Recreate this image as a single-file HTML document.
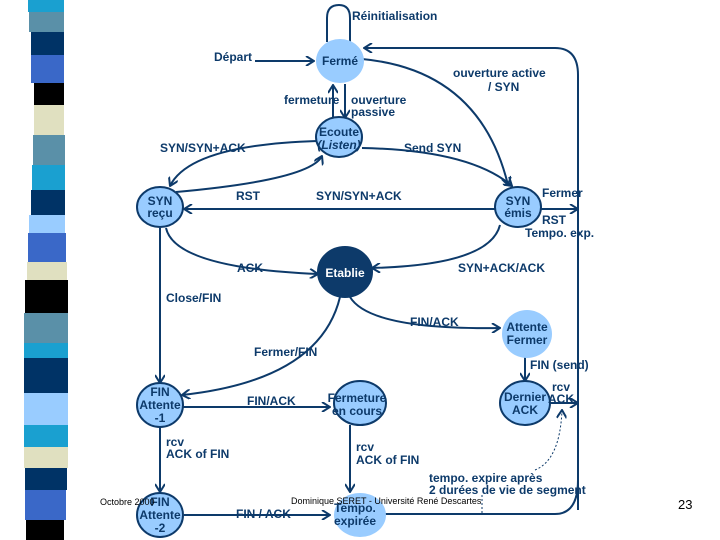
<!DOCTYPE html>
<html><head><meta charset="utf-8"><style>
body{margin:0;background:#fff}
svg{display:block}
text{font-family:"Liberation Sans",Arial,sans-serif;font-weight:bold;font-size:12px;fill:#0d3a6a}
</style></head><body>
<svg width="720" height="540" viewBox="0 0 720 540" xmlns="http://www.w3.org/2000/svg">
<defs><marker id="a" markerWidth="10" markerHeight="10" refX="9" refY="5" orient="auto" markerUnits="userSpaceOnUse"><path d="M1,0 L9,5 L1,10" fill="none" stroke="#0d3a6a" stroke-width="2"/></marker></defs>
<!-- stripes -->
<g>
<rect x="28" y="0" width="36" height="12" fill="#1aa0d0"/>
<rect x="29" y="12" width="35" height="20" fill="#5a90a8"/>
<rect x="31" y="32" width="33" height="23" fill="#003366"/>
<rect x="31" y="55" width="33" height="28" fill="#3a68c8"/>
<rect x="34" y="83" width="30" height="22" fill="#000"/>
<rect x="34" y="105" width="30" height="30" fill="#e0e0c0"/>
<rect x="33" y="135" width="32" height="30" fill="#5a90a8"/>
<rect x="32" y="165" width="33" height="25" fill="#1aa0d0"/>
<rect x="31" y="190" width="34" height="25" fill="#003366"/>
<rect x="29" y="215" width="36" height="18" fill="#99ccff"/>
<rect x="28" y="233" width="38" height="29" fill="#3a68c8"/>
<rect x="27" y="262" width="40" height="18" fill="#e0e0c0"/>
<rect x="25" y="280" width="43" height="33" fill="#000"/>
<rect x="24" y="313" width="44" height="30" fill="#5a90a8"/>
<rect x="24" y="343" width="44" height="15" fill="#1aa0d0"/>
<rect x="24" y="358" width="44" height="35" fill="#003366"/>
<rect x="24" y="393" width="44" height="32" fill="#99ccff"/>
<rect x="24" y="425" width="44" height="22" fill="#1aa0d0"/>
<rect x="24" y="447" width="44" height="21" fill="#e0e0c0"/>
<rect x="25" y="468" width="42" height="22" fill="#003366"/>
<rect x="25" y="490" width="41" height="30" fill="#3a68c8"/>
<rect x="26" y="520" width="38" height="20" fill="#000"/>
</g>
<g fill="none" stroke="#0d3a6a" stroke-width="2">
<path d="M327,42 V18 Q327,5 339,5 Q350,5 350,18 V42"/>
<path d="M255,61 H314" marker-end="url(#a)"/>
<path d="M578,510 V75 Q578,48 555,48 H364" marker-end="url(#a)"/>
<path d="M362,59 Q480,70 508,185" marker-end="url(#a)"/>
<path d="M333,117 V85" marker-end="url(#a)"/>
<path d="M345,84 V118" marker-end="url(#a)"/>
<path d="M317,141 Q190,145 170,186" marker-end="url(#a)"/>
<path d="M176,192 Q310,180 322,156" marker-end="url(#a)"/>
<path d="M362,148 Q470,150 512,186" marker-end="url(#a)"/>
<path d="M495,209 H184" marker-end="url(#a)"/>
<path d="M540,209 H578" marker-end="url(#a)"/>
<path d="M500,225 Q490,265 372,268" marker-end="url(#a)"/>
<path d="M166,228 Q175,268 318,274" marker-end="url(#a)"/>
<path d="M160,228 V383" marker-end="url(#a)"/>
<path d="M340,297 Q320,380 182,395" marker-end="url(#a)"/>
<path d="M350,297 Q370,330 500,328" marker-end="url(#a)"/>
<path d="M525,355 V381" marker-end="url(#a)"/>
<path d="M550,403 H578" marker-end="url(#a)"/>
<path d="M183,407 H330" marker-end="url(#a)"/>
<path d="M160,427 V492" marker-end="url(#a)"/>
<path d="M184,515 H330" marker-end="url(#a)"/>
<path d="M350,425 V492" marker-end="url(#a)"/>
<path d="M578,480 Q578,514 555,514 H380"/>
</g>
<path d="M535,470 Q560,460 562,410" fill="none" stroke="#0d3a6a" stroke-width="1" stroke-dasharray="2,2" marker-end="url(#a)"/>
<path d="M482,495 V513" fill="none" stroke="#0d3a6a" stroke-width="1" stroke-dasharray="2,2"/>
<!-- nodes -->
<g stroke="#0d3a6a" stroke-width="2">
<ellipse cx="340" cy="61" rx="24" ry="22" fill="#99ccff" stroke="none"/>
<ellipse cx="339" cy="137" rx="23" ry="20" fill="#99ccff"/>
<ellipse cx="160" cy="207" rx="23" ry="20" fill="#99ccff"/>
<ellipse cx="518" cy="207" rx="23" ry="20" fill="#99ccff"/>
<ellipse cx="345" cy="272" rx="27" ry="25" fill="#0d3a6a"/>
<ellipse cx="527" cy="334" rx="25" ry="24" fill="#99ccff" stroke="none"/>
<ellipse cx="525" cy="403" rx="25" ry="22" fill="#99ccff"/>
<ellipse cx="360" cy="403" rx="26" ry="22" fill="#99ccff"/>
<ellipse cx="160" cy="405" rx="23" ry="22" fill="#99ccff"/>
<ellipse cx="160" cy="515" rx="23" ry="22" fill="#99ccff"/>
<ellipse cx="360" cy="515" rx="26" ry="22" fill="#99ccff" stroke="none"/>
</g>
<g text-anchor="middle">
<text x="340" y="65">Fermé</text>
<text x="339" y="136">Ecoute</text><text x="339" y="149" font-style="italic">(Listen)</text>
<text x="160" y="205">SYN</text><text x="160" y="217">reçu</text>
<text x="518" y="205">SYN</text><text x="518" y="217">émis</text>
<text x="345" y="277" fill="#fff" style="fill:#fff">Etablie</text>
<text x="527" y="331">Attente</text><text x="527" y="344">Fermer</text>
<text x="525" y="401">Dernier</text><text x="525" y="414">ACK</text>
<text x="357" y="402">Fermeture</text><text x="357" y="415">en cours</text>
<text x="160" y="396">FIN</text><text x="160" y="409">Attente</text><text x="160" y="422">-1</text>
<text x="160" y="506">FIN</text><text x="160" y="519">Attente</text><text x="160" y="532">-2</text>
<text x="355" y="512">Tempo.</text><text x="355" y="525">expirée</text>
</g>
<text x="352" y="20">Réinitialisation</text>
<text x="214" y="61">Départ</text>
<text x="453" y="77">ouverture active</text>
<text x="488" y="91">/ SYN</text>
<text x="284" y="104">fermeture</text>
<text x="351" y="104">ouverture</text>
<text x="351" y="116">passive</text>
<text x="160" y="152">SYN/SYN+ACK</text>
<text x="404" y="152">Send SYN</text>
<text x="236" y="200">RST</text>
<text x="316" y="200">SYN/SYN+ACK</text>
<text x="542" y="197">Fermer</text>
<text x="542" y="224">RST</text>
<text x="525" y="237">Tempo. exp.</text>
<text x="237" y="272">ACK</text>
<text x="458" y="272">SYN+ACK/ACK</text>
<text x="166" y="302">Close/FIN</text>
<text x="410" y="326">FIN/ACK</text>
<text x="254" y="356">Fermer/FIN</text>
<text x="530" y="369">FIN (send)</text>
<text x="552" y="391">rcv</text>
<text x="548" y="403">ACK</text>
<text x="247" y="405">FIN/ACK</text>
<text x="166" y="446">rcv</text><text x="166" y="458">ACK of FIN</text>
<text x="356" y="451">rcv</text><text x="356" y="464">ACK of FIN</text>
<text x="429" y="482">tempo. expire après</text>
<text x="429" y="494">2 durées de vie de segment</text>
<text x="236" y="518">FIN / ACK</text>
<text x="100" y="505" style="font-weight:normal;font-size:9px;fill:#000">Octobre 2000</text>
<text x="291" y="504" style="font-weight:normal;font-size:9px;fill:#000">Dominique SERET - Université René Descartes</text>
<text x="678" y="509" style="font-weight:normal;font-size:13px;fill:#000">23</text>
</svg>
</body></html>
